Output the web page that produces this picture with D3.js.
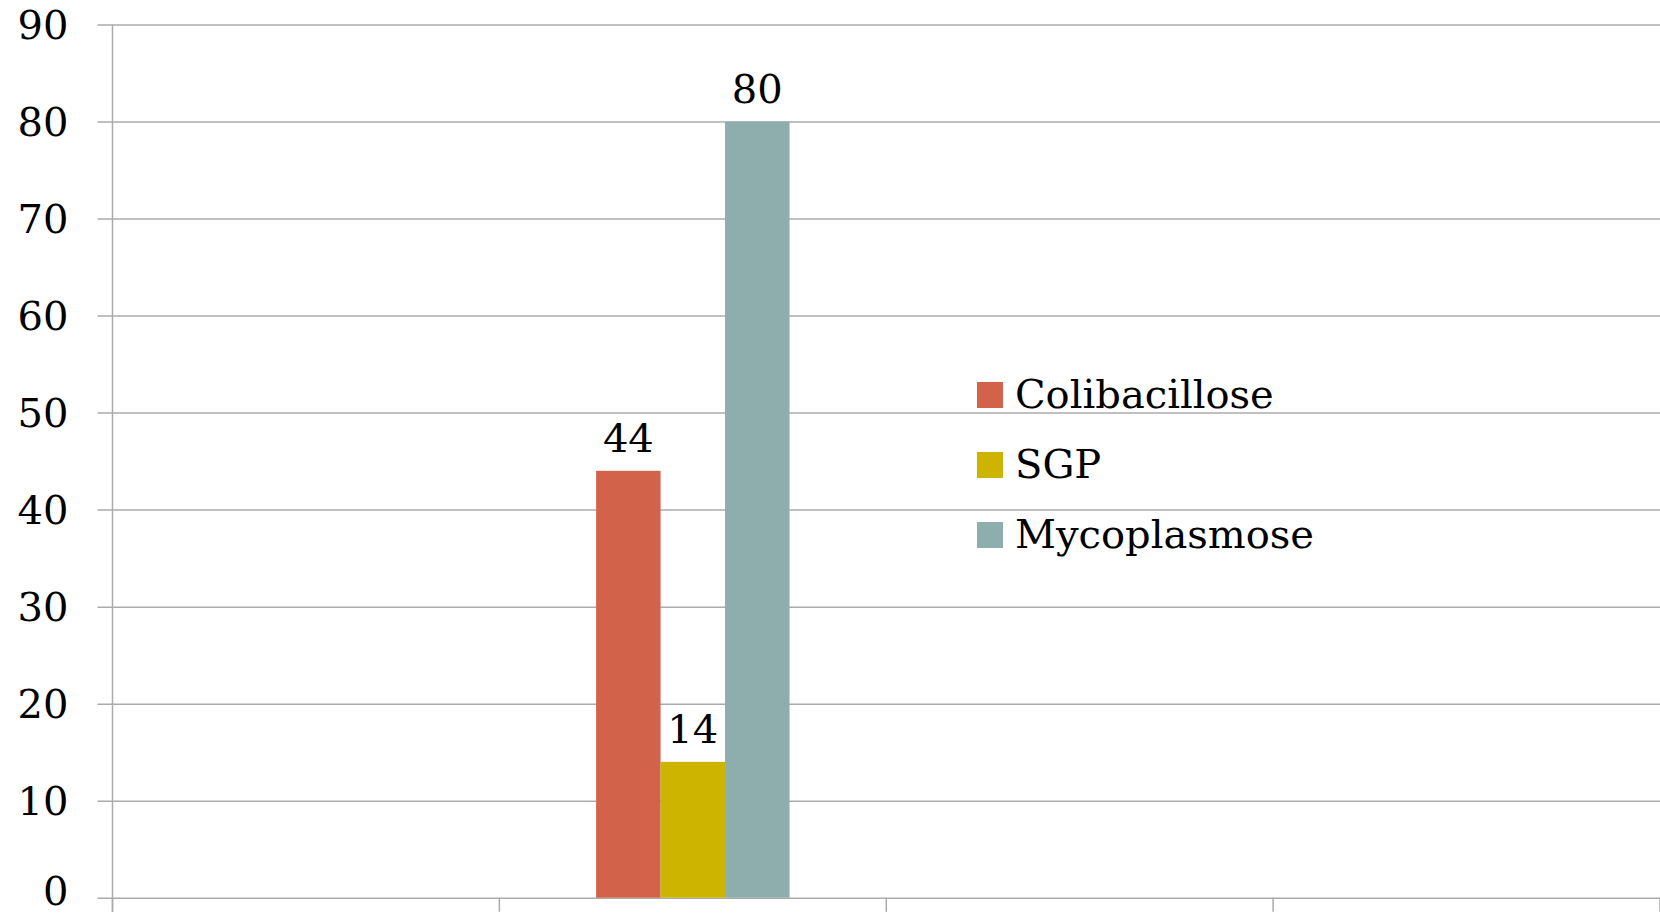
<!DOCTYPE html>
<html>
<head>
<meta charset="utf-8">
<script src="https://cdn.jsdelivr.net/npm/d3@7"></script>
<style>
  html, body { margin: 0; padding: 0; background: #fff; }
  svg text { font-family: 'DejaVu Serif', Georgia, serif; fill: #000; }
</style>
</head>
<body>
<div id="graph"></div>
<script>
// categories along x (the labels are cut off in the original, only the 2nd has data)
var categories = ['c1', 'c2', 'c3', 'c4'];
var seriesNames = ['Colibacillose', 'SGP', 'Mycoplasmose'];
var colibacillose = [null, 44, null, null];
var sgp = [null, 14, null, null];
var mycoplasmose = [null, 80, null, null];
var yTicks = [0, 10, 20, 30, 40, 50, 60, 70, 80, 90];
var colors = ['#D2634A', '#CCB400', '#8EADAD'];

var width = 1660;
var height = 914;
var plotLeft = 112.5, plotTop = 24.5, plotBottom = 897.7;

var values = [colibacillose, sgp, mycoplasmose];

var svg = d3.select('#graph')
            .append('svg')
            .attr('width', width)
            .attr('height', height);

var y = d3.scaleLinear()
          .domain([0, 90])
          .range([plotBottom, plotTop]);

var x0 = d3.scaleBand()
           .domain(categories)
           .range([plotLeft, width])
           .padding(0);

var bw = x0.bandwidth();
var x1 = d3.scaleBand()
           .domain(seriesNames)
           .range([bw / 4, bw * 3 / 4]);

// gridlines + y axis
var yAxis = d3.axisLeft(y)
              .tickValues(yTicks)
              .tickSize(-(width - plotLeft))
              .tickPadding(44);

var gy = svg.append('g')
            .attr('transform', 'translate(' + plotLeft + ',0)')
            .call(yAxis);

gy.select('.domain').remove();
gy.selectAll('.tick line')
  .attr('x1', -15)
  .attr('stroke', '#ababab')
  .attr('stroke-width', 1.5);
gy.selectAll('.tick text')
  .attr('font-size', 40)
  .attr('dy', d => d === 0 ? '0.16em' : '0.34em')   // keep the bottom label inside the frame
  .attr('font-family', "'DejaVu Serif', serif");

svg.append('line')
   .attr('x1', plotLeft).attr('x2', plotLeft)
   .attr('y1', plotTop).attr('y2', plotBottom + 14)
   .attr('stroke', '#ababab')
   .attr('stroke-width', 1.5);

// category boundary ticks
var bounds = categories.map(function(c) { return x0(c); }).concat([width]);
svg.selectAll('.xtick')
   .data(bounds)
   .enter()
   .append('line')
   .attr('class', 'xtick')
   .attr('x1', d => d).attr('x2', d => d)
   .attr('y1', plotBottom).attr('y2', plotBottom + 14)
   .attr('stroke', '#ababab')
   .attr('stroke-width', 1.5);

// bars
var rows = [];
categories.forEach(function(c, i) {
  seriesNames.forEach(function(s, j) {
    if (values[j][i] != null) rows.push({cat: c, name: s, value: values[j][i], color: colors[j]});
  });
});

svg.selectAll('.bar')
   .data(rows)
   .enter()
   .append('rect')
   .attr('class', 'bar')
   .attr('x', d => x0(d.cat) + x1(d.name))
   .attr('width', x1.bandwidth())
   .attr('y', d => y(d.value))
   .attr('height', d => y(0) - y(d.value))
   .attr('fill', d => d.color);

svg.selectAll('.lbl')
   .data(rows)
   .enter()
   .append('text')
   .attr('class', 'lbl')
   .attr('x', d => x0(d.cat) + x1(d.name) + x1.bandwidth() / 2)
   .attr('y', d => y(d.value) - 19)
   .attr('text-anchor', 'middle')
   .attr('font-size', 40)
   .text(d => d.value);

// legend
var legend = svg.append('g')
                .attr('transform', 'translate(977,382)');

var item = legend.selectAll('g')
                 .data(seriesNames)
                 .enter()
                 .append('g')
                 .attr('transform', (d, i) => 'translate(0,' + (i * 70) + ')');

item.append('rect')
    .attr('width', 26)
    .attr('height', 26)
    .attr('fill', (d, i) => colors[i]);

item.append('text')
    .attr('x', 38)
    .attr('y', 26)
    .attr('font-size', 40)
    .text(d => d);
</script>
</body>
</html>
